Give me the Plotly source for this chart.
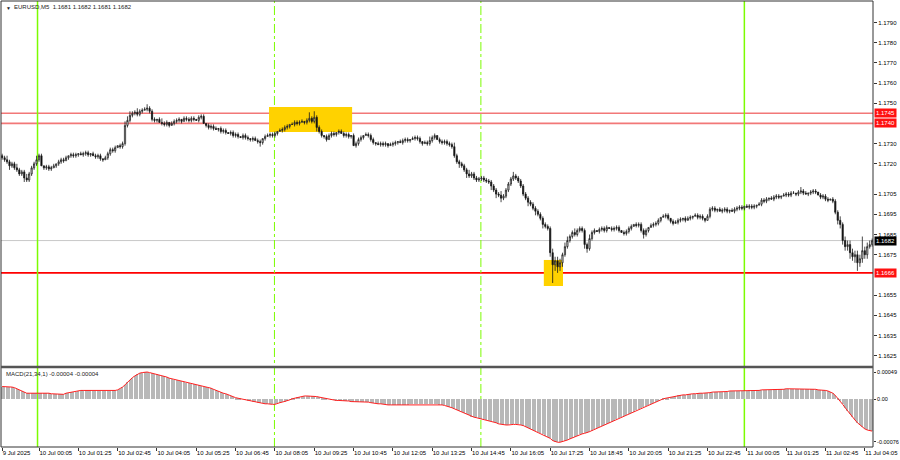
import pandas as pd
import plotly.graph_objects as go
from plotly.subplots import make_subplots

# ---------------- data ----------------
start_time = "2025-07-09 22:50"   # first M5 bar
first_open = 1.1724
closes = [
    1.1723,1.1722,1.1721,1.1719,1.1720,1.1718,1.1717,1.1715,1.1716,1.1713,1.1712,1.1715,1.1718,1.1720,1.1722,1.1724,
    1.1719,1.1718,1.17185,1.17175,1.1718,1.1719,1.1720,1.1721,1.1722,1.17215,1.1723,
    1.1724,1.17245,1.1724,1.17245,1.1725,1.17245,1.1725,1.17255,1.17245,1.1725,1.1724,1.17235,1.1724,1.17225,1.1722,1.1723,
    1.1725,1.1727,1.17265,1.1728,1.1729,1.17285,1.1730,
    1.1739,1.17415,1.1744,1.1745,1.17455,1.17445,1.1746,1.17465,1.1747,1.17475,
    1.1746,1.1742,1.17415,1.1742,1.17405,1.1740,1.17395,1.17405,1.1739,1.1740,1.1741,1.17415,1.1742,1.1741,1.17425,1.1742,1.17415,1.17425,1.1742,1.17415,1.1743,1.17435,
    1.1740,1.1739,1.1738,1.17385,1.17375,1.1737,1.17375,1.1736,1.17365,1.17355,1.1735,1.17355,1.1734,1.17345,1.17335,1.1733,1.1734,1.1733,1.17325,1.1732,1.17325,1.17315,1.1731,1.17305,1.17325,1.17335,1.1734,1.17345,1.1734,1.1735,1.1736,1.17365,1.1737,1.1738,1.17385,1.17395,
    1.17395,1.17405,1.1740,1.17405,1.1741,1.17405,1.17415,1.17425,1.1741,1.1743,1.1738,1.1736,1.1734,1.17335,1.1732,1.1734,1.1735,1.17345,1.17355,1.1736,1.1735,1.1734,1.17345,1.17335,1.1734,
    1.1729,1.1730,1.1732,1.1733,1.1734,1.17345,1.1734,1.1732,1.17305,1.1730,1.17295,1.1730,1.17295,1.1730,1.1729,1.17295,1.1730,1.17305,1.1731,1.17305,1.17315,1.1732,1.17315,1.1732,1.17325,1.1733,1.17325,1.1731,1.1730,1.17305,1.1730,1.17315,1.1733,1.1734,1.1732,1.1731,1.17305,1.1731,1.1730,1.17295,1.17285,
    1.1724,1.1721,1.1720,1.1719,1.1717,1.1715,1.1714,1.1715,1.1713,1.1712,1.17125,1.1713,1.1712,1.17115,1.1711,1.1709,1.1707,1.1705,1.17045,1.1703,1.1704,1.1707,1.1710,1.17125,1.1714,1.1713,1.17115,1.1709,1.1705,1.1703,1.1701,1.1700,1.1698,1.16965,1.1695,1.1693,1.1690,1.1689,1.1688,
    1.1676,1.1670,1.1672,1.1669,1.1671,1.1675,1.1679,1.1682,1.1684,1.1686,1.1685,1.1687,1.1688,
    1.1687,1.1680,1.1678,1.1683,1.1686,1.1687,1.16865,1.16875,1.1688,1.1687,1.16885,1.1688,1.16875,1.1688,1.16885,1.1687,1.1686,1.16855,1.16865,1.1688,1.1689,1.1690,1.16895,1.1690,
    1.1687,1.1685,1.1687,1.16885,1.16895,1.1690,1.16905,1.1692,1.16935,1.1694,1.16945,1.1693,1.16915,1.16905,1.1691,1.1692,1.16925,1.1693,1.1692,1.1693,1.16935,1.1694,1.16945,1.16935,1.1694,1.1693,1.1692,1.1694,
    1.16975,1.1698,1.1697,1.16975,1.16965,1.1697,1.16975,1.16965,1.1697,1.16965,1.16975,1.1698,1.16985,1.1698,1.1699,1.16985,1.1699,1.16985,1.1699,1.16995,1.1700,
    1.1702,1.17015,1.17025,1.1703,1.17025,1.17035,1.1704,1.17035,1.1704,1.17045,1.1705,1.17045,1.17055,1.17055,1.1705,1.1706,1.17065,1.17055,1.1705,1.17055,1.1706,1.17065,1.1706,1.17045,1.17035,1.1704,1.17025,1.1702,1.17025,1.17015,
    1.1696,1.1692,1.1690,1.1682,1.1679,1.1680,1.1676,1.1674,1.1675,1.1671,1.1673,1.1677,1.1675,1.1679,1.1680,1.1682,
]
wick_up_pips = [
    1,1,2,1,1,1,2,1,1,1,2,1,1,1,2,1,1,0,1,1,
    1,1,0,1,1,1,1,0,1,1,1,0,1,1,1,1,0,1,1,1,
    1,0,1,1,1,1,1,0,1,1,2,2,2,1,1,2,1,1,1,2,
    1,1,1,0,1,2,1,1,0,1,1,1,1,0,1,1,1,1,1,0,
    1,1,1,0,1,1,1,1,0,1,1,1,0,1,1,1,1,0,1,1,
    1,0,1,1,1,1,0,1,1,1,1,1,0,1,1,1,1,0,1,1,
    1,1,1,0,1,3,1,3,1,1,1,0,1,1,1,1,0,1,1,1,
    1,1,0,1,1,1,1,0,1,1,1,1,0,1,1,1,1,0,1,1,
    1,0,1,1,1,1,0,1,1,1,1,0,1,1,2,1,1,0,1,1,
    1,1,1,1,2,1,1,1,1,1,2,1,1,1,1,1,1,1,1,1,
    1,1,1,2,1,1,1,1,2,1,1,1,1,1,1,1,1,1,1,1,
    1,1,1,1,2,2,2,2,1,2,2,1,1,2,1,1,1,1,1,2,
    1,1,0,1,1,1,1,0,1,1,1,1,0,1,1,1,1,0,1,1,
    1,1,1,0,1,1,1,1,0,1,1,1,0,1,1,1,1,0,1,1,
    1,0,1,1,1,1,0,1,1,1,1,0,1,1,1,1,0,1,1,1,
    1,1,0,1,1,1,1,0,1,1,1,1,0,1,1,1,1,0,1,1,
    1,1,1,0,1,2,1,1,0,1,1,1,0,1,1,1,1,0,1,1,
    1,2,1,2,2,2,2,2,2,2,7,2,2,2,1,
]
wick_dn_pips = [
    1,1,1,2,1,1,1,1,1,2,1,1,1,1,1,1,0,1,1,1,
    1,0,1,1,1,1,0,1,1,1,1,1,0,1,1,1,1,0,1,1,
    1,1,0,1,1,1,1,0,1,1,1,1,1,1,1,1,1,1,0,1,
    1,1,1,1,0,1,1,1,1,0,1,1,1,1,0,1,1,1,1,0,
    1,1,0,1,1,1,1,0,1,1,1,1,0,1,1,1,1,0,1,1,
    1,1,1,0,1,2,1,1,0,1,1,1,1,0,1,1,1,1,0,1,
    1,1,0,1,1,1,1,1,2,1,1,1,1,0,1,1,1,1,0,1,
    1,1,1,0,1,1,1,1,0,1,1,1,1,0,1,1,1,1,0,1,
    1,1,0,1,1,1,1,0,1,1,1,1,0,1,1,1,1,0,1,1,
    1,1,1,1,1,1,2,1,1,2,1,1,1,1,1,1,1,1,1,2,
    1,2,1,2,1,1,1,1,1,1,1,1,1,1,2,1,1,2,1,1,
    2,1,1,2,9,3,3,2,2,1,1,1,1,1,1,1,1,2,2,1,
    1,1,0,1,1,1,1,0,1,1,1,1,0,1,1,1,1,0,1,1,
    1,2,1,1,0,1,1,1,1,0,1,1,1,1,0,1,1,1,1,0,
    1,1,0,1,1,1,1,0,1,1,1,1,0,1,1,1,1,0,1,1,
    1,1,1,0,1,1,1,1,0,1,1,1,1,0,1,1,1,1,0,1,
    1,1,0,1,1,1,1,0,1,1,1,1,0,1,1,1,1,0,1,1,
    2,2,2,2,2,3,2,3,4,2,2,2,2,1,1,
]
# MACD(21,34,1) main value, in units of 0.00001
macd_e5 = [
    23,23,23,22,22,21,19,17,15,13,11,11,11,11,12,12,12,12,
    11,11,10,10,10,9,9,9,11,12,13,13,14,15,16,16,
    16,16,16,15,15,15,15,15,15,15,15,16,16,17,19,22,
    26,31,35,39,42,45,47,48,49,49,
    48,47,46,45,44,42,41,40,38,37,35,
    34,33,32,31,30,29,28,27,26,25,24,23,22,21,
    20,18,16,15,13,11,10,8,6,5,3,
    2,1,0,-1,-2,-3,-4,-5,-6,-7,-7,-8,-8,-9,-9,-9,
    -7,-6,-5,-4,-2,-1,1,2,4,
    5,5,6,6,6,6,6,5,4,3,2,1,0,
    -1,-1,-2,-2,-2,-3,-3,-3,-4,-4,-5,-5,-5,-5,-5,-5,-6,
    -7,-7,-8,-8,-9,-9,-10,-10,-10,-10,-10,-10,-10,-10,-10,-9,-9,-9,-9,-9,-9,-9,-9,-9,-9,
    -9,-9,-10,-10,-11,-12,-13,-15,-17,-19,
    -21,-23,-25,-27,-29,-31,-32,-33,-34,-35,-36,-37,-38,-39,-41,
    -42,-44,-45,-46,-46,-46,-45,-45,-45,-45,
    -46,-47,-49,-51,-53,-55,-57,-59,-61,-63,-65,-67,-70,-74,
    -76,-77,-77,-76,-75,-73,
    -71,-69,-67,-65,-63,-62,-61,-60,-58,-56,
    -54,-52,-50,-48,-46,-44,-42,-40,-38,-36,-34,-32,-30,-28,-26,-24,-22,-20,-18,-16,-14,-12,-10,-8,-6,
    -4,-2,0,1,2,3,4,5,6,7,7,8,8,9,9,
    10,10,11,11,11,11,12,12,13,13,13,14,14,14,14,15,15,15,15,15,
    15,15,15,16,16,16,16,16,17,17,17,17,17,18,18,18,18,18,19,19,19,19,19,19,19,19,19,19,18,18,18,17,17,16,16,
    15,13,11,7,2,-3,-9,-15,-21,-27,-32,-37,-42,-46,-50,-53,-55,-56,-57,
]

xtick_times = ["2025-07-09 22:50", "2025-07-10 00:05", "2025-07-10 01:25", "2025-07-10 02:45",
               "2025-07-10 04:05", "2025-07-10 05:25", "2025-07-10 06:45", "2025-07-10 08:05",
               "2025-07-10 09:25", "2025-07-10 10:45", "2025-07-10 12:05", "2025-07-10 13:25",
               "2025-07-10 14:45", "2025-07-10 16:05", "2025-07-10 17:25", "2025-07-10 18:45",
               "2025-07-10 20:05", "2025-07-10 21:25", "2025-07-10 22:45", "2025-07-11 00:05",
               "2025-07-11 01:25", "2025-07-11 02:45", "2025-07-11 04:05"]
xtick_labels = ["9 Jul 2025", "10 Jul 00:05", "10 Jul 01:25", "10 Jul 02:45", "10 Jul 04:05",
                "10 Jul 05:25", "10 Jul 06:45", "10 Jul 08:05", "10 Jul 09:25", "10 Jul 10:45",
                "10 Jul 12:05", "10 Jul 13:25", "10 Jul 14:45", "10 Jul 16:05", "10 Jul 17:25",
                "10 Jul 18:45", "10 Jul 20:05", "10 Jul 21:25", "10 Jul 22:45", "11 Jul 00:05",
                "11 Jul 01:25", "11 Jul 02:45", "11 Jul 04:05"]
# 1.1740 and 1.1665 sit under the level labels, so they are not listed
price_ticks = [1.1790, 1.1780, 1.1770, 1.1760, 1.1750, 1.1730, 1.1720, 1.1705,
               1.1695, 1.1685, 1.1675, 1.1655, 1.1645, 1.1635, 1.1625]
macd_ticks = [0.00049, 0.0, -0.00076]
macd_tick_labels = ["0.00049", "0.00", "-0.00076"]

resistance_levels = [1.1745, 1.1740]
support_level = 1.1666
last_price = 1.1682
solid_vlines = ["2025-07-10 00:02", "2025-07-11 00:00"]
dashed_vlines = ["2025-07-10 08:04", "2025-07-10 15:04"]
zones = [("2025-07-10 07:53", "2025-07-10 10:42", 1.17357, 1.17481),
         ("2025-07-10 17:12", "2025-07-10 17:51", 1.16595, 1.16724)]
title_text = "EURUSD,M5  1.1681 1.1682 1.1681 1.1682"
macd_text = "MACD(21,34,1) -0.00004 -0.00004"

# ---------------- build ----------------
PIP = 0.0001
n = len(closes)
times = pd.date_range(start_time, periods=n, freq="5min")
opens = [first_open] + closes[:-1]
highs = [max(o, c) + u * PIP for o, c, u in zip(opens, closes, wick_up_pips)]
lows = [min(o, c) - d * PIP for o, c, d in zip(opens, closes, wick_dn_pips)]
macd = [v * 1e-5 for v in macd_e5[:n]]

FONT = "Liberation Sans"
fig = make_subplots(rows=2, cols=1, shared_xaxes=True)

fig.add_trace(go.Candlestick(
    x=times, open=opens, high=highs, low=lows, close=closes,
    increasing=dict(line=dict(color="#1a1a1a", width=0.8), fillcolor="white"),
    decreasing=dict(line=dict(color="#1a1a1a", width=0.8), fillcolor="black"),
    whiskerwidth=0, hoverinfo="skip", showlegend=False), row=1, col=1)

fig.add_trace(go.Bar(x=times[:len(macd)], y=macd, marker=dict(color="#b8b8b8", line=dict(width=0)),
                     width=150000, hoverinfo="skip", showlegend=False), row=2, col=1)
fig.add_trace(go.Scatter(x=times[:len(macd)], y=macd, mode="lines", line=dict(color="#ff2020", width=1),
                         hoverinfo="skip", showlegend=False), row=2, col=1)

x0 = times[0] - pd.Timedelta(seconds=138)
x1 = times[-1] + pd.Timedelta(seconds=102)

shapes = []
for a, b, lo, hi in zones:
    shapes.append(dict(type="rect", xref="x", yref="y", x0=a, x1=b, y0=lo, y1=hi,
                       fillcolor="#ffd200", line=dict(width=0), layer="below"))
for lv in resistance_levels:
    shapes.append(dict(type="line", xref="paper", yref="y", x0=0, x1=1, y0=lv, y1=lv,
                       line=dict(color="#f27878", width=1.6), layer="below"))
shapes.append(dict(type="line", xref="paper", yref="y", x0=0, x1=1, y0=support_level, y1=support_level,
                   line=dict(color="#ff0000", width=1.6), layer="below"))
shapes.append(dict(type="line", xref="paper", yref="y", x0=0, x1=1, y0=last_price, y1=last_price,
                   line=dict(color="#c8c8c8", width=1), layer="below"))
for t in solid_vlines:
    shapes.append(dict(type="line", xref="x", yref="paper", x0=t, x1=t, y0=0, y1=1,
                       line=dict(color="#7cfc00", width=1.5), layer="below"))
for t in dashed_vlines:
    shapes.append(dict(type="line", xref="x", yref="paper", x0=t, x1=t, y0=0, y1=1,
                       line=dict(color="#7cfc00", width=1, dash="dashdot"), layer="below"))
# frame
shapes += [
    dict(type="line", xref="paper", yref="paper", x0=0, x1=0, y0=0, y1=1, line=dict(color="#333", width=1)),
    dict(type="line", xref="paper", yref="paper", x0=1, x1=1, y0=0, y1=1, line=dict(color="#333", width=1)),
    dict(type="line", xref="paper", yref="paper", x0=0, x1=1, y0=1, y1=1, line=dict(color="#333", width=1)),
    dict(type="line", xref="paper", yref="paper", x0=0, x1=1, y0=0, y1=0, line=dict(color="#333", width=1)),
    dict(type="line", xref="paper", yref="paper", x0=0, x1=1, y0=0.1794, y1=0.1794, line=dict(color="#555", width=2.5)),
]

annotations = [
    dict(xref="paper", yref="paper", x=0, y=1, xanchor="left", yanchor="top", xshift=3, yshift=-2,
         text="▼", showarrow=False, font=dict(family=FONT, size=5, color="#222")),
    dict(xref="paper", yref="paper", x=0, y=1, xanchor="left", yanchor="top", xshift=11, yshift=-1,
         text=title_text, showarrow=False, font=dict(family=FONT, size=6, color="#222")),
    dict(xref="paper", yref="y2 domain", x=0, y=1, xanchor="left", yanchor="top", xshift=3, yshift=-1,
         text=macd_text, showarrow=False, font=dict(family=FONT, size=6, color="#222")),
]
for lv, bg in [(resistance_levels[0], "#ff1010"), (resistance_levels[1], "#ff1010"),
               (support_level, "#ff1010"), (last_price, "#000000")]:
    annotations.append(dict(xref="paper", yref="y", x=1, y=lv, xanchor="left", yanchor="middle", xshift=1,
                            text=f"{lv:.4f}", showarrow=False, bgcolor=bg, borderpad=1,
                            font=dict(family=FONT, size=6, color="white")))

fig.update_layout(
    width=900, height=460, margin=dict(l=1, r=27, t=1, b=13, autoexpand=False),
    paper_bgcolor="white", plot_bgcolor="white", bargap=0,
    shapes=shapes, annotations=annotations, showlegend=False,
    font=dict(family=FONT, size=6, color="black"),
    xaxis=dict(range=[x0, x1], showgrid=False, rangeslider=dict(visible=False), showticklabels=False,
               ticks="", zeroline=False),
    xaxis2=dict(range=[x0, x1], showgrid=False, tickvals=pd.to_datetime(xtick_times), ticktext=xtick_labels,
                ticks="outside", ticklen=3, tickcolor="#333", ticklabelposition="outside right",
                tickangle=0, automargin=False,
                tickfont=dict(family=FONT, size=6, color="black"), zeroline=False),
    yaxis=dict(domain=[0.1816, 1.0], range=[1.16199, 1.18006], side="right", showgrid=False,
               tickvals=price_ticks, ticktext=[f"{v:.4f}" for v in price_ticks], automargin=False,
               ticks="outside", ticklen=3, tickcolor="#333", zeroline=False,
               tickfont=dict(family=FONT, size=6, color="black")),
    yaxis2=dict(domain=[0.0, 0.1771], range=[-0.000855, 0.000562], side="right", showgrid=False,
                tickvals=macd_ticks, ticktext=macd_tick_labels, ticks="outside", ticklen=2, automargin=False,
                tickcolor="#333", zeroline=False, tickfont=dict(family=FONT, size=5.5, color="black")),
)

fig.write_html("out.html", config={"displayModeBar": False},
               post_script="document.body.style.margin='0';document.body.style.overflow='hidden';")
